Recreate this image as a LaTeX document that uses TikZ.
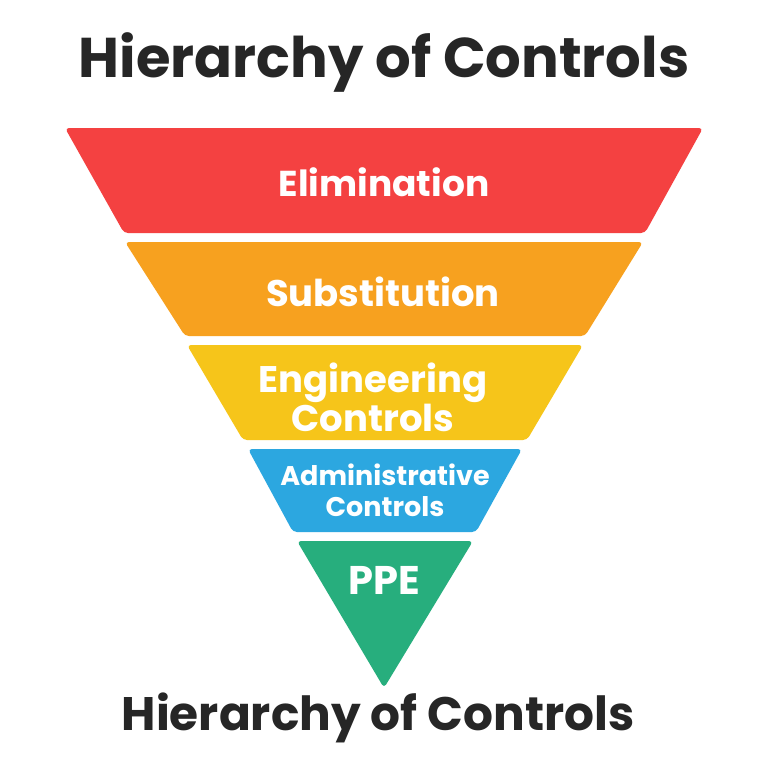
\documentclass[tikz,border=0pt]{standalone}
\usepackage{fontspec}
\setmainfont{Poppins}
\begin{document}
\begin{tikzpicture}[x=1pt,y=-1pt,
  band/.style={rounded corners=4pt},
  lbl/.style={text=white,font=\bfseries,align=center},
  title/.style={text=black!85,font=\bfseries}]
\useasboundingbox[fill=white] (0,0) rectangle (768,768);
\definecolor{cA}{HTML}{F44141}
\definecolor{cB}{HTML}{F7A11F}
\definecolor{cC}{HTML}{F6C51A}
\definecolor{cD}{HTML}{2CA7E0}
\definecolor{cE}{HTML}{27AE7D}
\fill[band,cA] (65,128) -- (703,128) -- (645,233) -- (124,233) -- cycle;
\fill[band,cB] (125,242) -- (643,242) -- (585,336) -- (185,336) -- cycle;
\fill[band,cC] (187,345) -- (583,345) -- (527,440) -- (243,440) -- cycle;
\fill[band,cD] (248,449) -- (522,449) -- (476,532) -- (293,532) -- cycle;
\fill[band,cE] (297,541) -- (473,541) -- (384,688) -- cycle;
\node[lbl,font=\bfseries\fontsize{36}{40}\selectfont] (e) at (384,182) {Elimination};
\node[lbl,font=\bfseries\fontsize{37}{40}\selectfont] (s) at (383,292) {Substitution};
\node[lbl,font=\bfseries\fontsize{37}{39}\selectfont] (g) at (373,397) {Engineering\\Controls};
\node[lbl,font=\bfseries\fontsize{27}{31}\selectfont] (a) at (385,490) {Administrative\\Controls};
\node[lbl,font=\bfseries\fontsize{40}{44}\selectfont] (p) at (384,580) {PPE};
\node[title,font=\bfseries\fontsize{56}{60}\selectfont] (t1) at (384,62) {Hierarchy of Controls};
\node[title,font=\bfseries\fontsize{47}{50}\selectfont] (t2) at (378,718) {Hierarchy of Controls};
\end{tikzpicture}
\end{document}
